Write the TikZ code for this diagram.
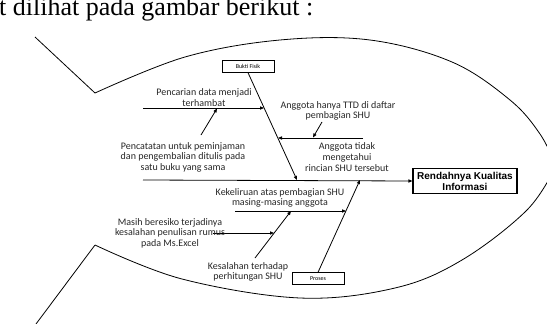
\documentclass[tikz,border=0pt]{standalone}
\usepackage{fontspec}
\setmainfont{Carlito}
\newfontfamily\headfont{Liberation Sans}
\newfontfamily\bodyserif{Liberation Serif}
\usetikzlibrary{arrows.meta}

\begin{document}
\begin{tikzpicture}[x=1pt,y=-1pt,
  outline/.style={line width=0.8pt},
  bone/.style={line width=0.8pt,-{Triangle[length=4pt,width=3.2pt]}},
  cause/.style={font=\fontsize{10}{10.6}\selectfont,align=center,inner sep=0pt,text=black!85},
  catbox/.style={draw,line width=0.8pt,inner sep=0pt,minimum width=52pt,minimum height=11.5pt,
                 font=\fontsize{6}{7}\selectfont},
  headbox/.style={draw,line width=1.1pt,inner sep=0pt,minimum width=104pt,minimum height=25pt,
                  align=center,font=\headfont\bfseries\fontsize{10}{11}\selectfont}
]
\useasboundingbox (0,0) rectangle (547,324);

% running text above the figure and the fish outline
\begin{scope}
  \clip (0,0) rectangle (547,324);
  \node[anchor=base west,inner sep=0pt,font=\bodyserif\fontsize{26}{30}\selectfont] (caption) at (-1,16) {t dilihat pada gambar berikut :};
  \coordinate (tailA) at (35,37);
  \coordinate (tailB) at (95,93);
  \coordinate (tailC) at (95,245);
  \coordinate (tailD) at (36,324);
  \coordinate (nose) at (556,166);
  \draw[outline] (tailA) -- (tailB);
  \draw[outline] (tailC) -- (tailD);
  \draw[outline] plot[smooth,tension=0.6] coordinates
    {(tailB) (185,57) (280,40) (370,40) (452,62) (510,100) (540,134) (nose)};
  \draw[outline] plot[smooth,tension=0.6] coordinates
    {(tailC) (182,279) (300,298) (395,288) (462,260) (527,210) (nose)};
\end{scope}

% head and category boxes
\node[headbox] (head) at (465,181) {Rendahnya Kualitas\\Informasi};
\node[catbox] (bukti) at (248,66.5) {Bukti Fisik};
\node[catbox] (proses) at (318,278.5) {Proses};

% spine
\coordinate (spineS) at (143,180);
\draw[bone] (spineS) -- (head.west);

% category bones
\coordinate (buktiEnd) at (297,180);
\coordinate (prosesEnd) at (360,180);
\draw[bone] (bukti.south) -- (buktiEnd);
\draw[bone] (proses.north) -- (prosesEnd);

% points where sub-causes meet the bones
\coordinate (pA) at (264,108);
\coordinate (pB) at (278,138);
\coordinate (pC) at (346,211);
\coordinate (pD) at (291,211);
\coordinate (pE) at (274,233);

% Bukti Fisik causes
\coordinate (lineA) at (143,108);
\draw[bone] (lineA) -- (pA);
\node[cause] (tA) at (204,97.5) {Pencarian data menjadi\\terhambat};
\coordinate (arrA0) at (201,135);
\coordinate (arrA1) at (217,108.5);
\draw[bone] (arrA0) -- (arrA1);
\node[cause] (tA2) at (183,157) {Pencatatan untuk peminjaman\\dan pengembalian ditulis pada\\satu buku yang sama};

\coordinate (lineB) at (363,138);
\draw[bone] (lineB) -- (pB);
\node[cause] (tB) at (338,111) {Anggota hanya TTD di daftar\\pembagian SHU};
\coordinate (arrB0) at (322,122);
\coordinate (arrB1) at (313,137.5);
\draw[bone] (arrB0) -- (arrB1);
\node[cause] (tB2) at (347,157) {Anggota tidak\\mengetahui\\rincian SHU tersebut};

% Proses causes
\coordinate (lineC) at (235,211);
\draw[bone] (lineC) -- (pC);
\node[cause] (tC) at (280,198) {Kekeliruan atas pembagian SHU\\masing-masing anggota};
\coordinate (arrC0) at (255,258);
\draw[bone] (arrC0) -- (pD);
\node[cause] (tC2) at (248,272) {Kesalahan terhadap\\perhitungan SHU};
\coordinate (lineD) at (213,233);
\draw[bone] (lineD) -- (pE);
\node[cause] (tD) at (170,233) {Masih beresiko terjadinya\\kesalahan penulisan rumus\\pada Ms.Excel};
\end{tikzpicture}
\end{document}
